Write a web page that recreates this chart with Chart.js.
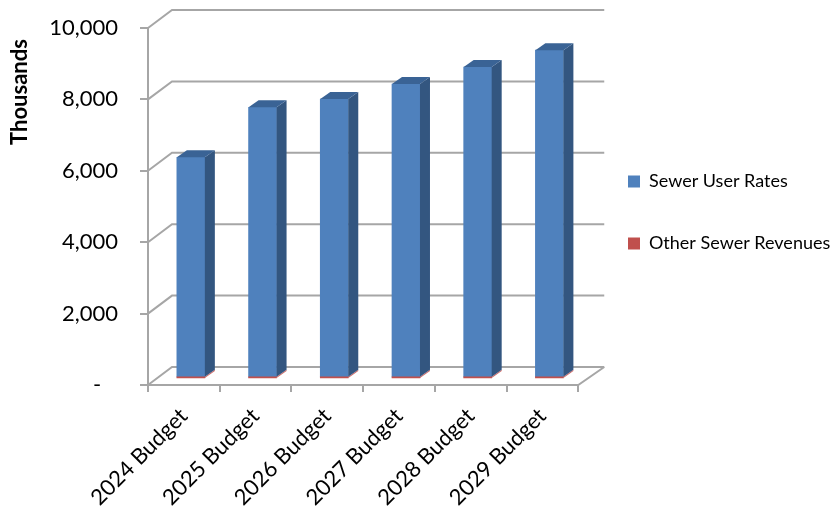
<!DOCTYPE html>
<html lang="en">
<head>
    <meta charset="UTF-8">
    <title>Sewer Revenues</title>
    <script src="https://cdn.jsdelivr.net/npm/chart.js"></script>
    <style>
        html, body { margin: 0; padding: 0; background: #fff; }
        #wrap { width: 833px; height: 514px; }
    </style>
</head>
<body>
    <div id="wrap"><canvas id="myChart"></canvas></div>
    <script>
        const categories = ['2024 Budget', '2025 Budget', '2026 Budget', '2027 Budget', '2028 Budget', '2029 Budget'];
        const sewerUserRates = [6150, 7550, 7780, 8200, 8680, 9150];
        const otherRevenues = [60, 60, 60, 60, 60, 60];
        const yTickLabels = ['-   ', '2,000', '4,000', '6,000', '8,000', '10,000'];

        const gridColor = '#a6a6a6';
        const fontName = 'Lato, "Open Sans", sans-serif';

        // faux 3D: bars sit a little inside the floor, back wall is further off
        const wallDx = 24, wallDy = -18;
        const barDx = 7, barDy = -6;
        const depthDx = 10, depthDy = -7;

        function quad(ctx, pts, color) {
            ctx.fillStyle = color;
            ctx.beginPath();
            ctx.moveTo(pts[0][0], pts[0][1]);
            for (let i = 1; i < pts.length; i++) ctx.lineTo(pts[i][0], pts[i][1]);
            ctx.closePath();
            ctx.fill();
        }

        const faces = [
            { side: '#cf6a67', top: null },
            { side: '#335680', top: '#3a6395' }
        ];

        const fake3d = {
            id: 'fake3d',
            afterLayout(chart) {
                const leg = chart.legend;
                leg.left = 584; leg.right = 833 + 50;
                leg.top += 6; leg.bottom += 6;
            },
            beforeDatasetsDraw(chart) {
                const ctx = chart.ctx, a = chart.chartArea, y = chart.scales.y;
                ctx.save();
                ctx.strokeStyle = gridColor;
                ctx.lineWidth = 2;
                y.ticks.forEach(t => {
                    const py = y.getPixelForValue(t.value);
                    ctx.beginPath();
                    ctx.moveTo(a.left, py);
                    ctx.lineTo(a.left + wallDx, py + wallDy);
                    ctx.lineTo(a.right + wallDx + 2, py + wallDy);
                    ctx.stroke();
                });
                // floor edges
                const py0 = y.getPixelForValue(0);
                ctx.beginPath();
                ctx.moveTo(a.left, py0);
                ctx.lineTo(a.right, py0);
                ctx.lineTo(a.right + wallDx + 2, py0 + wallDy);
                ctx.stroke();
                ctx.restore();
                // bars are drawn shifted, the restore is in afterDatasetsDraw
                ctx.save();
                ctx.translate(barDx, barDy);
            },
            afterDatasetsDraw(chart) {
                const ctx = chart.ctx;
                chart.data.datasets.forEach((ds, i) => {
                    chart.getDatasetMeta(i).data.forEach(bar => {
                        const p = bar.getProps(['x', 'y', 'base', 'width']);
                        const l = p.x - p.width / 2, r = p.x + p.width / 2;
                        quad(ctx, [[r, p.y], [r + depthDx, p.y + depthDy], [r + depthDx, p.base + depthDy], [r, p.base]], faces[i].side);
                        if (faces[i].top) {
                            quad(ctx, [[l, p.y], [l + depthDx, p.y + depthDy], [r + depthDx, p.y + depthDy], [r, p.y]], faces[i].top);
                        }
                    });
                });
                ctx.restore();
                // axis title
                ctx.save();
                ctx.translate(20, 92);
                ctx.rotate(-Math.PI / 2);
                ctx.font = 'bold 22px ' + fontName;
                ctx.fillStyle = '#000';
                ctx.textAlign = 'center';
                ctx.textBaseline = 'middle';
                ctx.fillText('Thousands', 0, 0);
                ctx.restore();
            }
        };

        new Chart(document.getElementById('myChart').getContext('2d'), {
            type: 'bar',
            data: {
                labels: categories,
                datasets: [
                    { label: 'Other Sewer Revenues', data: otherRevenues, backgroundColor: '#c0504d', barThickness: 28 },
                    { label: 'Sewer User Rates', data: sewerUserRates, backgroundColor: '#4f81bd', barThickness: 28 }
                ]
            },
            options: {
                responsive: true,
                maintainAspectRatio: false,
                animation: false,
                layout: { padding: { top: 28, right: 62, bottom: 0, left: 0 } },
                plugins: {
                    tooltip: { enabled: false },
                    legend: {
                        display: true,
                        position: 'right',
                        fullSize: false,
                        reverse: true,
                        labels: {
                            color: '#000',
                            font: { family: fontName, size: 18 },
                            boxWidth: 12,
                            boxHeight: 12,
                            padding: 44
                        }
                    }
                },
                scales: {
                    x: {
                        stacked: true,
                        afterFit(s) { s.height = 129; s.paddingLeft = 0; s.paddingRight = 0; },
                        border: { display: true, color: gridColor, width: 2 },
                        grid: { drawOnChartArea: false, color: gridColor, lineWidth: 2, tickLength: 7 },
                        ticks: {
                            color: '#000',
                            font: { family: fontName, size: 22 },
                            maxRotation: 45,
                            minRotation: 45,
                            padding: 11
                        }
                    },
                    y: {
                        stacked: true,
                        min: 0,
                        max: 10000,
                        afterFit(s) { s.width = 148; s.paddingTop = 0; s.paddingBottom = 0; },
                        border: { display: true, color: gridColor, width: 2 },
                        grid: { drawOnChartArea: false, color: gridColor, lineWidth: 2, tickLength: 8 },
                        ticks: {
                            stepSize: 2000,
                            color: '#000',
                            font: { family: fontName, size: 22 },
                            padding: 22,
                            callback: (v, i) => yTickLabels[i]
                        }
                    }
                }
            },
            plugins: [fake3d]
        });
    </script>
</body>
</html>
